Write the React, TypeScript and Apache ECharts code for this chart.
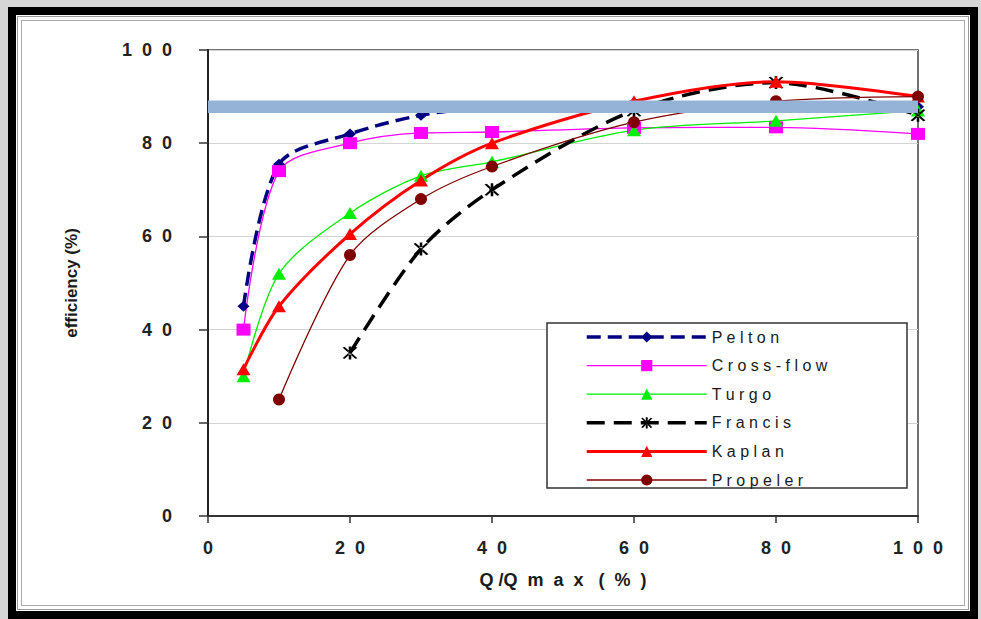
import React, { useEffect, useRef } from "react";
import * as echarts from "echarts";

// Q/Qmax (%) positions
const xValues = [5, 10, 20, 30, 40, 60, 80, 100];
const francisX = [20, 30, 40, 60, 80, 100];
const propelerX = [10, 20, 30, 40, 60, 80, 100];

// efficiency (%) values
const pelton = [45, 75.5, 82, 86, 87.8, 88.6, 88.2, 87.8];
const crossFlow = [40, 74, 80, 82.2, 82.4, 83.3, 83.4, 82];
const turgo = [30, 52, 65, 73, 76, 82.8, 84.8, 87];
const francis = [35, 57.3, 70, 87, 93, 86];
const kaplan = [31.5, 45, 60.5, 72, 80, 89, 93.2, 90];
const propeler = [25, 56, 68, 75, 84.5, 89, 90];

const bandValue = 87.8;
const bandRange = [0, 100];

const seriesNames = ["Pelton", "Cross-flow", "Turgo", "Francis", "Kaplan", "Propeler"];

const asterisk =
  "path://M9,0 L11,0 L11,20 L9,20 Z M14.134,19.16 L15.866,18.16 L5.866,0.84 L4.134,1.84 Z M15.866,1.84 L14.134,0.84 L4.134,18.16 L5.866,19.16 Z";

const zip = (xs: number[], ys: number[]) => xs.map((x, i) => [x, ys[i]]);
const spaced = (s: string, sep = " ") => s.split("").join(sep);

export default function App() {
  const ref = useRef<HTMLDivElement>(null);

  useEffect(() => {
    if (!ref.current) return;
    const chart = echarts.init(ref.current, undefined, { renderer: "svg" });
    const font = "'Liberation Sans', Arial, sans-serif";
    const baseLine = (extra: any) => ({
      type: "line",
      smooth: 0.3,
      z: 2,
      ...extra,
    });
    chart.setOption({
      animation: false,
      textStyle: { fontFamily: font },
      grid: {
        left: 208,
        right: 63,
        top: 50,
        bottom: 103,
        show: true,
        borderColor: "#444",
        borderWidth: 1.5,
        containLabel: false,
      },
      xAxis: {
        type: "value",
        min: 0,
        max: 100,
        interval: 20,
        name: "Q /Q  m  a  x   (  %  )",
        nameLocation: "middle",
        nameGap: 55,
        nameTextStyle: { fontSize: 18, fontWeight: "bold", color: "#1a1a1a", fontFamily: font },
        axisLine: { show: true, lineStyle: { color: "#333", width: 2 } },
        axisTick: { show: true, inside: false, length: 7, lineStyle: { color: "#333", width: 1.5 } },
        axisLabel: {
          margin: 23,
          fontSize: 18,
          fontWeight: "bold",
          color: "#222",
          fontFamily: font,
          formatter: (v: number) => spaced(String(v), "  "),
        },
        splitLine: { show: false },
      },
      yAxis: {
        type: "value",
        min: 0,
        max: 100,
        interval: 20,
        name: "efficiency (%)",
        nameLocation: "middle",
        nameGap: 128,
        nameTextStyle: { fontSize: 17, fontWeight: "bold", color: "#1a1a1a", fontFamily: font },
        axisLine: { show: true, lineStyle: { color: "#222", width: 2 } },
        axisTick: { show: true, inside: false, length: 9, lineStyle: { color: "#333", width: 1.5 } },
        axisLabel: {
          margin: 36,
          fontSize: 18,
          fontWeight: "bold",
          color: "#222",
          fontFamily: font,
          formatter: (v: number) => spaced(String(v), "  "),
        },
        splitLine: { show: true, lineStyle: { color: "#d4d4d4", width: 1.2 } },
      },
      legend: {
        data: seriesNames,
        orient: "vertical",
        left: 585,
        top: 329,
        itemWidth: 120,
        itemHeight: 14,
        itemGap: 12.6,
        padding: 0,
        selectedMode: false,
        formatter: (name: string) => spaced(name),
        textStyle: { fontSize: 16, color: "#1a1a1a", fontFamily: font },
        lineStyle: { width: "inherit" },
      },
      graphic: [
        {
          type: "rect",
          z: 3,
          shape: { x: 547, y: 323, width: 360, height: 165 },
          style: { fill: "#fff", stroke: "#333", lineWidth: 1.5 },
        },
      ],
      series: [
        baseLine({
          name: "Pelton",
          data: zip(xValues, pelton),
          symbol: "diamond",
          symbolSize: [12, 11],
          itemStyle: { color: "#000080" },
          lineStyle: { color: "#000080", width: 3.5, type: [14, 7] },
        }),
        baseLine({
          name: "Cross-flow",
          data: zip(xValues, crossFlow),
          symbol: "rect",
          symbolSize: [14, 12],
          itemStyle: { color: "#ff00ff" },
          lineStyle: { color: "#ff00ff", width: 1.3 },
        }),
        baseLine({
          name: "Turgo",
          data: zip(xValues, turgo),
          symbol: "triangle",
          symbolSize: [14, 12],
          itemStyle: { color: "#00ee00" },
          lineStyle: { color: "#00ee00", width: 1.3 },
        }),
        baseLine({
          name: "Francis",
          data: zip(francisX, francis),
          symbol: asterisk,
          symbolSize: [15, 13],
          itemStyle: { color: "#000" },
          lineStyle: { color: "#000", width: 3.5, type: [18, 9] },
        }),
        baseLine({
          name: "Kaplan",
          data: zip(xValues, kaplan),
          symbol: "triangle",
          symbolSize: [14, 12],
          itemStyle: { color: "#ff0000" },
          lineStyle: { color: "#ff0000", width: 3 },
        }),
        baseLine({
          name: "Propeler",
          data: zip(propelerX, propeler),
          symbol: "circle",
          symbolSize: 12,
          itemStyle: { color: "#800000" },
          lineStyle: { color: "#800000", width: 1.3 },
        }),
        {
          type: "line",
          name: "band",
          z: 20,
          silent: true,
          symbol: "none",
          data: bandRange.map((x) => [x, bandValue]),
          lineStyle: { color: "#95b3d7", width: 12.5, cap: "butt" },
        },
      ],
    });
    return () => chart.dispose();
  }, []);

  return (
    <div
      style={{
        position: "fixed",
        left: 0,
        top: 0,
        width: 981,
        height: 619,
        background: "#d6d6d6",
        overflow: "hidden",
      }}
    >
      <div
        style={{
          position: "absolute",
          left: 8,
          top: 7,
          width: 970,
          height: 612,
          border: "8px solid #000",
          boxSizing: "border-box",
          background: "#fff",
        }}
      >
        <div style={{ position: "absolute", left: 1, top: 1, right: 1, bottom: 1, border: "1px solid #999" }} />
        <div style={{ position: "absolute", left: 5, top: 5, right: 5, bottom: 5, border: "1px solid #aaa" }} />
      </div>
      <div ref={ref} style={{ position: "absolute", left: 0, top: 0, width: 981, height: 619 }} />
    </div>
  );
}
